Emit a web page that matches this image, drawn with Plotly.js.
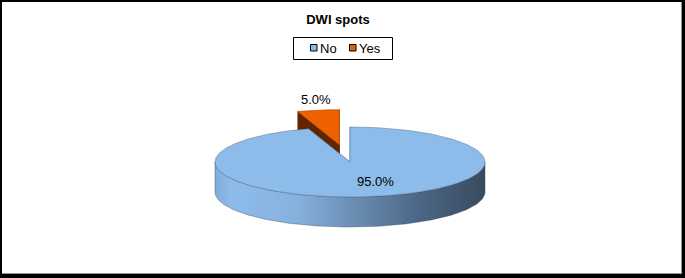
<!DOCTYPE html>
<html><head><meta charset="utf-8">
<script src="https://cdn.plot.ly/plotly-3.0.1.min.js"></script>
<style>html,body{margin:0;padding:0;background:#fff;}#chart{width:685px;height:278px;}</style>
</head><body><div id="chart"></div>
<script>
// ---- data ----
const categories = ['No', 'Yes'];
const values = [95, 5];
const valueLabels = ['95.0%', '5.0%'];
const topColors = ['#8DBCEB', '#EE6000'];
const sideColors = ['#5F82A8', '#652400'];
const chartTitle = 'DWI spots';

// ---- geometry / style (pixels) ----
const CX = 350, CY = 162, RX = 135, RY = 35, DEPTH = 30;
const EXPLODE = [0, 0.5];
const LABEL_POS = [[375, 181], [316, 99]];
const LEGEND_SQ_X = [311, 350];
const LEGEND_TXT_X = [318, 357];
const FONT = 'Liberation Sans, Arial, sans-serif';

const total = values.reduce((a, b) => a + b, 0);
function pt(theta, dx, dy, dz) {
  const t = theta * Math.PI / 180;
  return [CX + dx + RX * Math.sin(t), CY + dy - RY * Math.cos(t) + dz];
}
function arc(a0, a1, dx, dy, dz) {
  const pts = [];
  const n = Math.max(2, Math.ceil(Math.abs(a1 - a0)));
  for (let k = 0; k <= n; k++) pts.push(pt(a0 + (a1 - a0) * k / n, dx, dy, dz));
  return pts;
}
function poly(points, color, extra) {
  const tr = {
    type: 'scatter', mode: 'lines', fill: 'toself', hoverinfo: 'skip', showlegend: false,
    x: points.map(p => p[0]), y: points.map(p => p[1]),
    fillcolor: color, line: {color: color, width: 0.5}
  };
  return Object.assign(tr, extra || {});
}

// slice angles
const slices = [];
let cum = 0;
values.forEach((v, i) => {
  const a0 = cum / total * 360, a1 = (cum + v) / total * 360;
  cum += v;
  const mid = (a0 + a1) / 2 * Math.PI / 180;
  slices.push({i, a0, a1, dx: EXPLODE[i] * RX * Math.sin(mid), dy: -EXPLODE[i] * RY * Math.cos(mid)});
});

// draw exploded (back) slices first, then the main slice
const order = slices.slice().sort((s, t) => EXPLODE[t.i] - EXPLODE[s.i]);
const traces = [];
order.forEach(s => {
  const c = [CX + s.dx, CY + s.dy];
  // radial faces
  [s.a0, s.a1].forEach(a => {
    const e = pt(a, s.dx, s.dy, 0);
    traces.push(poly([c, e, [e[0], e[1] + DEPTH], [c[0], c[1] + DEPTH], c], sideColors[s.i]));
  });
  // outer curved side (front half only)
  const f0 = Math.max(s.a0, 90), f1 = Math.min(s.a1, 270);
  if (f1 > f0) {
    const top = arc(f0, f1, s.dx, s.dy, 0);
    const bot = arc(f1, f0, s.dx, s.dy, DEPTH);
    const pts = top.concat(bot); pts.push(top[0]);
    const tr = poly(pts, sideColors[s.i], {line: {color: 'rgba(40,55,70,0.6)', width: 0.6}});
    if (s.i === 0) {
      tr.fillgradient = {type: 'horizontal', colorscale: [
        [0, '#80ACD9'], [0.06, '#8DBCEB'], [0.3, '#86B2DE'], [0.5, '#6C90B6'],
        [0.75, '#4C6787'], [1, '#394B5F']]};
    }
    traces.push(tr);
  }
  // top face
  const topPts = [c].concat(arc(s.a0, s.a1, s.dx, s.dy, 0)); topPts.push(c);
  traces.push(poly(topPts, topColors[s.i], {line: {color: s.i === 0 ? 'rgba(70,95,125,0.7)' : '#B04800', width: 0.6}}));
});

// legend (built from categories)
const shapes = [];
const annotations = [];
shapes.push({type: 'rect', xref: 'x', yref: 'y', x0: 293.5, x1: 392.5, y0: 37.5, y1: 59.5,
  line: {color: '#000', width: 1}, fillcolor: 'rgba(0,0,0,0)'});
categories.forEach((cat, i) => {
  shapes.push({type: 'rect', xref: 'x', yref: 'y', x0: LEGEND_SQ_X[i] - 0.5, x1: LEGEND_SQ_X[i] + 6, y0: 44.5, y1: 51,
    line: {color: '#000', width: 1}, fillcolor: topColors[i]});
  annotations.push({xref: 'x', yref: 'y', x: LEGEND_TXT_X[i], y: 48, xanchor: 'left', yanchor: 'middle',
    text: cat, showarrow: false, font: {family: FONT, size: 13, color: '#000'}});
});
// value labels
valueLabels.forEach((t, i) => {
  annotations.push({xref: 'x', yref: 'y', x: LABEL_POS[i][0], y: LABEL_POS[i][1], xanchor: 'center', yanchor: 'middle',
    text: t, showarrow: false, font: {family: FONT, size: 13, color: '#000'}});
});
// frame
const frame = [[0, 685, 0, 2], [0, 2, 0, 278], [682, 685, 0, 278], [0, 685, 274, 278]];
frame.forEach(f => shapes.push({type: 'rect', xref: 'x', yref: 'y', x0: f[0], x1: f[1], y0: f[2], y1: f[3],
  line: {width: 0}, fillcolor: '#000', layer: 'above'}));
shapes.push({type: 'line', xref: 'x', yref: 'y', x0: 681.5, x1: 681.5, y0: 2, y1: 274, line: {color: '#999', width: 1}});
shapes.push({type: 'line', xref: 'x', yref: 'y', x0: 2, x1: 682, y0: 273.5, y1: 273.5, line: {color: '#999', width: 1}});

const layout = {
  width: 685, height: 278,
  margin: {l: 0, r: 0, t: 0, b: 0, pad: 0},
  paper_bgcolor: '#fff', plot_bgcolor: '#fff',
  showlegend: false,
  title: {text: '<b>' + chartTitle + '</b>', font: {family: FONT, size: 13, color: '#000'},
    x: 338 / 685, xanchor: 'center', xref: 'paper', y: 1 - 19 / 278, yanchor: 'middle', yref: 'paper'},
  xaxis: {range: [0, 685], visible: false, fixedrange: true},
  yaxis: {range: [278, 0], visible: false, fixedrange: true},
  shapes, annotations
};
Plotly.newPlot('chart', traces, layout, {staticPlot: true, displayModeBar: false});
</script></body></html>
